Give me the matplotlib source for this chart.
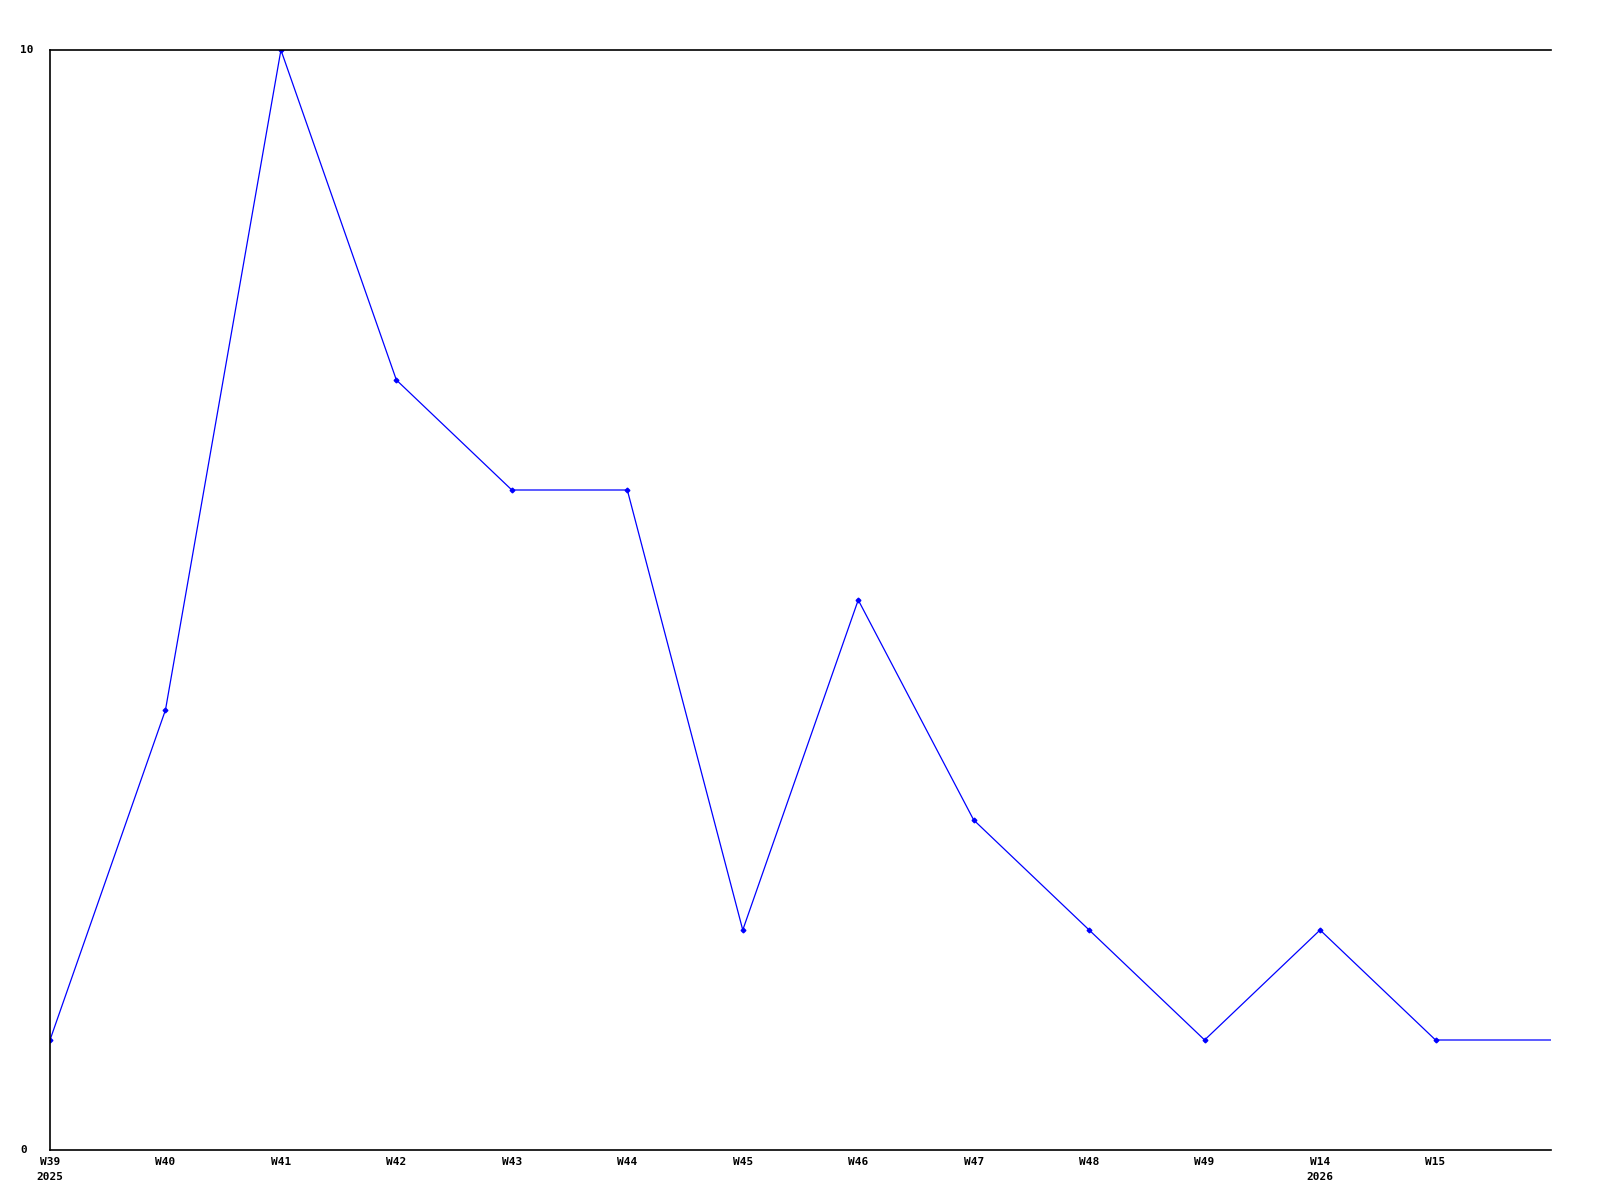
import matplotlib
matplotlib.use("Agg")
import matplotlib.pyplot as plt
import matplotlib.transforms as mtransforms

weeks = ["W39", "W40", "W41", "W42", "W43", "W44", "W45", "W46",
         "W47", "W48", "W49", "W14", "W15", ""]
years = ["2025", "", "", "", "", "", "", "", "", "", "", "2026", "", ""]
values = [1, 4, 10, 7, 6, 6, 2, 5, 3, 2, 1, 2, 1, 1]

fig = plt.figure(figsize=(16, 12), dpi=100)
# axes box in pixels: left 50, right 1551, top 50, bottom 1150
ax = fig.add_axes([50 / 1600, 1 - 1150 / 1200, 1501 / 1600, 1100 / 1200])

x = list(range(len(values)))
# last point is only the line end, no marker
ax.plot(x, values, color="#0000ff", linewidth=0.9, marker="D", markersize=2.4,
        markevery=list(range(len(values) - 1)))

ax.set_xlim(0, len(values) - 1)
ax.set_ylim(0, 10)
ax.spines["right"].set_visible(False)
for s in ("left", "bottom", "top"):
    ax.spines[s].set_linewidth(1.2)
    ax.spines[s].set_color("black")
ax.set_xticks([])
ax.set_yticks([])

font = dict(family="DejaVu Sans Mono", fontweight="bold", fontsize=8)

# y labels, left aligned at the figure edge
ytrans = mtransforms.blended_transform_factory(fig.transFigure, ax.transData)
for v in (0, 10):
    ax.text(20 / 1600, v, str(v), transform=ytrans, ha="left", va="center",
            clip_on=False, **font)

# x labels: week, then year underneath
xtrans = mtransforms.blended_transform_factory(ax.transData, fig.transFigure)
for i, (w, yr) in enumerate(zip(weeks, years)):
    if w:
        ax.text(i, 1 - 1162 / 1200, w, transform=xtrans, ha="center",
                va="center", clip_on=False, **font)
    if yr:
        ax.text(i, 1 - 1177 / 1200, yr, transform=xtrans, ha="center",
                va="center", clip_on=False, **font)

fig.savefig("out.png", dpi=100)
